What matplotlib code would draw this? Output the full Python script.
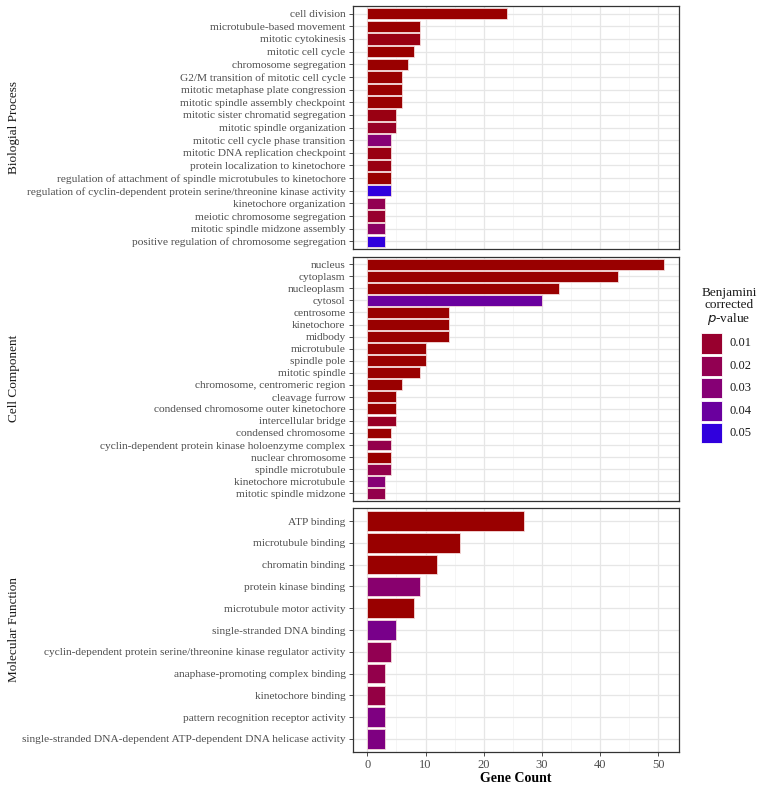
import numpy as np
import matplotlib
matplotlib.use('Agg')
import matplotlib.pyplot as plt
from matplotlib.colors import LinearSegmentedColormap
from matplotlib.patches import Rectangle

plt.rcParams['font.family'] = ['Liberation Serif', 'DejaVu Serif']

# Biological process
bp_terms = ['cell division', 'microtubule-based movement', 'mitotic cytokinesis',
            'mitotic cell cycle', 'chromosome segregation',
            'G2/M transition of mitotic cell cycle', 'mitotic metaphase plate congression',
            'mitotic spindle assembly checkpoint', 'mitotic sister chromatid segregation',
            'mitotic spindle organization', 'mitotic cell cycle phase transition',
            'mitotic DNA replication checkpoint', 'protein localization to kinetochore',
            'regulation of attachment of spindle microtubules to kinetochore',
            'regulation of cyclin-dependent protein serine/threonine kinase activity',
            'kinetochore organization', 'meiotic chromosome segregation',
            'mitotic spindle midzone assembly', 'positive regulation of chromosome segregation']
bp_count = [24, 9, 9, 8, 7, 6, 6, 6, 5, 5, 4, 4, 4, 4, 4, 3, 3, 3, 3]
bp_p = [0.0, 0.0, 0.004, 0.0, 0.0, 0.0, 0.0, 0.0, 0.004, 0.008, 0.03, 0.004, 0.004, 0.0,
        0.05, 0.02, 0.01, 0.025, 0.05]

# Cell component
cc_terms = ['nucleus', 'cytoplasm', 'nucleoplasm', 'cytosol', 'centrosome', 'kinetochore',
            'midbody', 'microtubule', 'spindle pole', 'mitotic spindle',
            'chromosome, centromeric region', 'cleavage furrow',
            'condensed chromosome outer kinetochore', 'intercellular bridge',
            'condensed chromosome', 'cyclin-dependent protein kinase holoenzyme complex',
            'nuclear chromosome', 'spindle microtubule', 'kinetochore microtubule',
            'mitotic spindle midzone']
cc_count = [51, 43, 33, 30, 14, 14, 14, 10, 10, 9, 6, 5, 5, 5, 4, 4, 4, 4, 3, 3]
cc_p = [0.0, 0.0, 0.0, 0.04, 0.0, 0.0, 0.0, 0.0, 0.0, 0.0, 0.0, 0.0, 0.0, 0.008,
        0.0, 0.018, 0.0, 0.018, 0.03, 0.018]

# Molecular function
mf_terms = ['ATP binding', 'microtubule binding', 'chromatin binding', 'protein kinase binding',
            'microtubule motor activity', 'single-stranded DNA binding',
            'cyclin-dependent protein serine/threonine kinase regulator activity',
            'anaphase-promoting complex binding', 'kinetochore binding',
            'pattern recognition receptor activity',
            'single-stranded DNA-dependent ATP-dependent DNA helicase activity']
mf_count = [27, 16, 12, 9, 8, 5, 4, 3, 3, 3, 3]
mf_p = [0.0, 0.0, 0.0, 0.028, 0.0, 0.035, 0.02, 0.018, 0.016, 0.033, 0.033]

panels = [('Biologial Process', bp_terms, bp_count, bp_p),
          ('Cell Component', cc_terms, cc_count, cc_p),
          ('Molecular Function', mf_terms, mf_count, mf_p)]

legend_vals = [0.01, 0.02, 0.03, 0.04, 0.05]

pmax = 0.051
cmap = LinearSegmentedColormap.from_list('pval', [
    (0.0, '#990000'), (0.01 / pmax, '#98002E'), (0.02 / pmax, '#920052'),
    (0.03 / pmax, '#860075'), (0.04 / pmax, '#6A009E'), (0.05 / pmax, '#3000DD'),
    (1.0, '#2A00E6')])

def pcol(p):
    return cmap(min(p / pmax, 1.0))

W, H = 757, 792
fig = plt.figure(figsize=(W / 100, H / 100), dpi=100)

left, right = 352.5, 679
tops = [6, 257, 508]
bots = [249, 500.5, 752]
xmax = 51
xlim = (-0.05 * xmax, xmax * 1.05)

for i, (name, terms, counts, pv) in enumerate(panels):
    ax = fig.add_axes([left / W, 1 - bots[i] / H, (right - left) / W, (bots[i] - tops[i]) / H])
    n = len(terms)
    ypos = np.arange(n, 0, -1)
    ax.set_xlim(*xlim)
    ax.set_ylim(0.4, n + 0.6)
    for x in np.arange(5, 55, 10):
        ax.axvline(x, color='#F2F2F2', lw=0.5, zorder=0)
    for x in np.arange(0, 55, 10):
        ax.axvline(x, color='#E6E6E6', lw=0.9, zorder=0)
    for y in ypos:
        ax.axhline(y, color='#E6E6E6', lw=0.9, zorder=0)
    ax.barh(ypos, counts, height=0.9, color=[pcol(p) for p in pv],
            edgecolor='#F4DADA', linewidth=0.6, zorder=2)
    ax.set_yticks(ypos)
    ax.set_yticklabels(terms, fontsize=8.2, color='#4D4D4D')
    ax.set_xticks(np.arange(0, 55, 10))
    ax.tick_params(axis='both', length=3, width=0.6, color='#333333', pad=2)
    for s in ax.spines.values():
        s.set_color('#333333')
        s.set_linewidth(0.9)
    if i < 2:
        ax.tick_params(axis='x', bottom=False, labelbottom=False)
    else:
        ax.set_xticklabels([str(v) for v in range(0, 55, 10)], fontsize=9, color='#4D4D4D')
        ax.set_xlabel('Gene Count', fontsize=10, fontweight='bold', labelpad=1)
    fig.text(14 / W, 1 - (tops[i] + bots[i]) / 2 / H, name, rotation=90,
             ha='center', va='center', fontsize=9.5, color='#1A1A1A')

# legend
fig.text(729 / W, 1 - 307 / H, 'Benjamini\ncorrected\n$\\mathit{p}$-value', ha='center',
         va='center', fontsize=9.5, linespacing=1.0, color='#1A1A1A')
for k, v in enumerate(legend_vals):
    y0 = 333.5 + k * 22.4
    fig.patches.append(Rectangle((701 / W, 1 - (y0 + 20) / H), 20.5 / W, 20 / H,
                                 transform=fig.transFigure, facecolor=pcol(v),
                                 edgecolor='white', lw=0.6))
    fig.text(730 / W, 1 - (y0 + 10) / H, '%.2f' % v, ha='left', va='center',
             fontsize=9, color='#1A1A1A')

plt.savefig('out.png', dpi=100)
plt.close()
